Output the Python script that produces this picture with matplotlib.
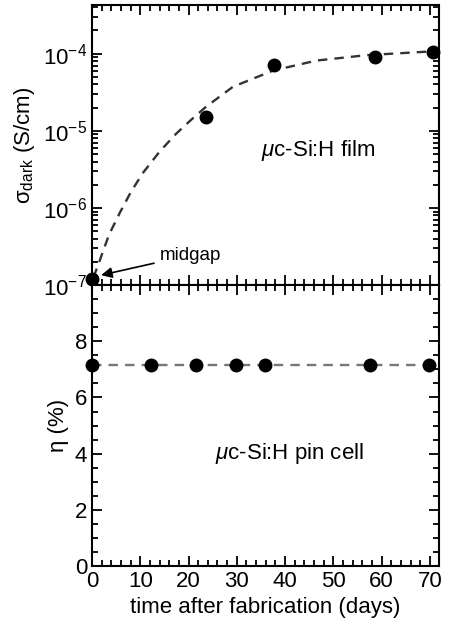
import matplotlib
matplotlib.use("Agg")
import matplotlib.pyplot as plt
from matplotlib.ticker import MultipleLocator, LogLocator, NullFormatter

plt.rcParams['font.family'] = ['Liberation Sans', 'DejaVu Sans']
plt.rcParams['mathtext.fontset'] = 'custom'
plt.rcParams['mathtext.rm'] = 'Liberation Sans'
plt.rcParams['mathtext.it'] = 'Liberation Sans:italic'
plt.rcParams['axes.unicode_minus'] = False
plt.rcParams['font.size'] = 16

# dark conductivity of the film
sigma_days = [0, 23.6, 37.8, 58.6, 70.7]
sigma_vals = [1.2e-7, 1.5e-5, 7.1e-5, 9.1e-5, 1.05e-4]
# dashed fit curve (log10 values)
fit_days = [0.3, 1.5, 3.5, 5.7, 8, 10.5, 14, 17.4, 20.5, 23.6, 29.2, 37.5, 46.5, 56.9, 70.7]
fit_log = [-6.9, -6.7, -6.35, -6.07, -5.8, -5.55, -5.27, -5.04, -4.86, -4.69, -4.43, -4.22, -4.09, -4.02, -3.97]

# cell efficiency
eta_days = [0, 12.2, 21.6, 29.9, 35.9, 57.5, 69.8]
eta_vals = [7.15, 7.15, 7.15, 7.15, 7.15, 7.15, 7.15]

fig = plt.figure(figsize=(4.5, 6.24), dpi=100)
ax1 = fig.add_axes([0.2044, 0.543, 0.7712, 0.449])
ax2 = fig.add_axes([0.2044, 0.093, 0.7712, 0.450], sharex=ax1)

ax1.plot(fit_days, [10 ** v for v in fit_log], ls=(0, (4, 3)), color='#333333', lw=1.7, zorder=2)
ax1.plot(sigma_days, sigma_vals, 'o', color='black', ms=9, clip_on=False, zorder=3)
ax1.set_yscale('log')
ax1.set_ylim(1e-7, 10 ** -3.37)
ax1.set_xlim(0, 71.9)
ax1.yaxis.set_major_locator(LogLocator(base=10, numticks=10))
ax1.yaxis.set_minor_locator(LogLocator(base=10, subs=range(2, 10), numticks=20))
ax1.yaxis.set_minor_formatter(NullFormatter())
ax1.set_ylabel(r'σ$_\mathrm{dark}$ (S/cm)')
ax1.text(35.1, 10 ** -5.25, r'$\mu$c-Si:H film', va='center')
ax1.annotate('midgap', xy=(1.9, 10 ** -6.87), xytext=(14, 10 ** -6.61),
             fontsize=13.5, va='center',
             arrowprops=dict(arrowstyle='-|>', color='black', lw=1.2, mutation_scale=16,
                             shrinkA=2, shrinkB=0))
ax1.tick_params(labelbottom=False)

ax2.plot(eta_days, eta_vals, ls=(0, (4, 3)), color='#777777', lw=1.7, zorder=2)
ax2.plot(eta_days, eta_vals, 'o', color='black', ms=9, clip_on=False, zorder=3)
ax2.set_ylim(0, 10)
ax2.yaxis.set_major_locator(MultipleLocator(2))
ax2.yaxis.set_minor_locator(MultipleLocator(0.5))
ax2.set_yticks([0, 2, 4, 6, 8])
ax2.set_ylabel('η (%)')
ax2.set_xlabel('time after fabrication (days)')
ax2.text(25.4, 4.0, r'$\mu$c-Si:H pin cell', va='center')

for ax in (ax1, ax2):
    ax.xaxis.set_major_locator(MultipleLocator(10))
    ax.xaxis.set_minor_locator(MultipleLocator(2))
    ax.tick_params(which='both', direction='in', top=True, right=True, width=1.3)
    ax.tick_params(which='major', length=7)
    ax.tick_params(which='minor', length=4)
    for s in ax.spines.values():
        s.set_linewidth(1.5)
ax2.set_xticks([0, 10, 20, 30, 40, 50, 60, 70])

fig.savefig('out.png', dpi=100)
